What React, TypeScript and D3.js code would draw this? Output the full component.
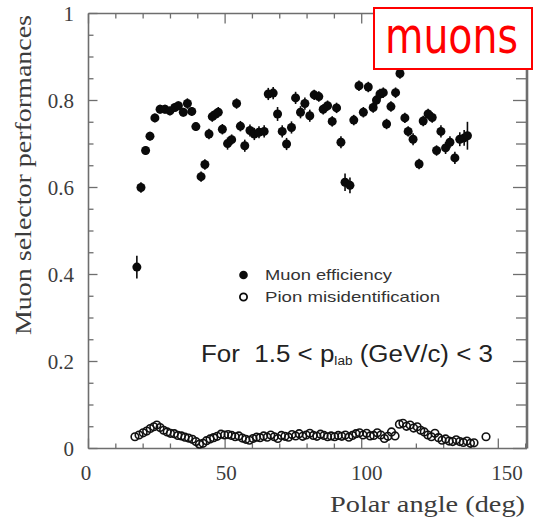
import React from "react";
import * as d3 from "d3";

// Muon efficiency vs polar angle (deg), with statistical errors
const muonAngle = [17.7, 19.2, 20.9, 22.5, 24.3, 26.2, 28.0, 29.8, 31.6, 32.9, 34.7, 36.2, 37.8, 39.3, 41.2, 42.6, 44.1, 45.3, 46.4, 47.5, 49.0, 50.9, 52.4, 54.2, 55.6, 57.2, 59.1, 60.7, 62.4, 64.3, 65.8, 67.6, 69.2, 70.9, 72.5, 74.3, 75.8, 77.6, 79.2, 81.0, 82.6, 84.3, 85.9, 87.5, 89.2, 90.8, 92.4, 93.9, 95.7, 97.1, 99.0, 100.6, 102.4, 104.2, 105.4, 106.7, 107.9, 109.1, 110.7, 112.4, 114.0, 115.8, 117.0, 118.8, 121.0, 122.5, 124.3, 125.8, 127.4, 129.0, 130.7, 132.3, 134.1, 135.9, 137.5, 138.7];
const muonEff = [0.417, 0.600, 0.685, 0.718, 0.760, 0.780, 0.780, 0.776, 0.784, 0.788, 0.773, 0.793, 0.775, 0.740, 0.625, 0.653, 0.723, 0.763, 0.768, 0.773, 0.734, 0.701, 0.710, 0.793, 0.741, 0.696, 0.731, 0.723, 0.727, 0.729, 0.815, 0.817, 0.769, 0.729, 0.700, 0.738, 0.806, 0.773, 0.793, 0.765, 0.813, 0.809, 0.780, 0.788, 0.752, 0.783, 0.704, 0.612, 0.605, 0.755, 0.834, 0.773, 0.831, 0.784, 0.801, 0.815, 0.818, 0.746, 0.786, 0.818, 0.862, 0.760, 0.729, 0.711, 0.654, 0.753, 0.769, 0.761, 0.685, 0.729, 0.691, 0.704, 0.668, 0.711, 0.714, 0.719];
const muonErr = [0.026, 0.012, 0.010, 0.010, 0.010, 0.010, 0.010, 0.010, 0.010, 0.010, 0.010, 0.012, 0.010, 0.010, 0.012, 0.012, 0.012, 0.012, 0.012, 0.012, 0.012, 0.014, 0.012, 0.012, 0.012, 0.014, 0.014, 0.014, 0.014, 0.014, 0.014, 0.014, 0.016, 0.014, 0.014, 0.014, 0.014, 0.014, 0.014, 0.014, 0.012, 0.012, 0.012, 0.012, 0.012, 0.012, 0.014, 0.020, 0.018, 0.012, 0.012, 0.012, 0.012, 0.012, 0.012, 0.012, 0.012, 0.012, 0.012, 0.012, 0.012, 0.012, 0.012, 0.014, 0.012, 0.012, 0.012, 0.012, 0.012, 0.014, 0.014, 0.014, 0.014, 0.016, 0.018, 0.032];

// Pion misidentification probability vs polar angle (deg)
const pionAngle = [17.0, 18.5, 20.0, 21.3, 22.6, 23.9, 25.0, 26.2, 27.5, 28.8, 30.0, 31.4, 32.7, 34.0, 35.3, 36.6, 38.0, 39.3, 40.6, 41.9, 43.2, 44.5, 45.8, 47.1, 48.5, 49.8, 51.1, 52.4, 53.7, 55.0, 56.3, 57.6, 58.9, 60.2, 61.5, 62.8, 64.1, 65.4, 66.7, 68.0, 69.3, 70.6, 71.9, 73.2, 74.5, 75.8, 77.1, 78.4, 79.7, 81.0, 82.3, 83.6, 84.9, 86.2, 87.5, 88.8, 90.1, 91.4, 92.7, 94.0, 95.3, 96.6, 97.9, 99.2, 100.5, 101.8, 103.1, 104.4, 105.7, 107.0, 108.3, 109.6, 110.9, 112.2, 113.8, 115.1, 116.4, 117.7, 119.0, 120.3, 121.6, 122.9, 124.2, 125.5, 126.8, 128.1, 129.4, 130.7, 132.0, 133.3, 134.6, 135.9, 137.2, 138.5, 139.8, 141.1, 145.5];
const pionMisid = [0.027, 0.031, 0.036, 0.040, 0.046, 0.050, 0.054, 0.048, 0.042, 0.038, 0.035, 0.034, 0.030, 0.029, 0.026, 0.024, 0.021, 0.016, 0.010, 0.012, 0.018, 0.022, 0.025, 0.028, 0.033, 0.031, 0.032, 0.030, 0.027, 0.029, 0.024, 0.021, 0.019, 0.023, 0.026, 0.025, 0.029, 0.026, 0.031, 0.027, 0.023, 0.030, 0.028, 0.026, 0.032, 0.029, 0.034, 0.028, 0.031, 0.035, 0.030, 0.028, 0.033, 0.030, 0.027, 0.029, 0.027, 0.030, 0.028, 0.031, 0.026, 0.030, 0.034, 0.036, 0.031, 0.035, 0.029, 0.030, 0.036, 0.031, 0.023, 0.028, 0.038, 0.029, 0.056, 0.058, 0.051, 0.054, 0.047, 0.050, 0.042, 0.038, 0.031, 0.027, 0.035, 0.025, 0.019, 0.022, 0.017, 0.016, 0.020, 0.016, 0.014, 0.017, 0.012, 0.013, 0.027];

const xTickLabels = [0, 50, 100, 150];
const yTickLabels = ["0", "0.2", "0.4", "0.6", "0.8", "1"];
const yTickValues = [0, 0.2, 0.4, 0.6, 0.8, 1];

const W = 537;
const H = 522;
const axisColor = "#6e6e6e";
const textColor = "#3c3c3c";
const serif = "'Liberation Serif', 'Times New Roman', serif";
const sans = "'Liberation Sans', Arial, sans-serif";

export default function App() {
  const x = d3.scaleLinear().domain([0, 160.5]).range([88.5, 527]);
  const y = d3.scaleLinear().domain([0, 1]).range([448.5, 13.5]);
  // printed x tick labels sit slightly off the tick marks
  const xLabel = d3.scaleLinear().domain([0, 150]).range([86, 507]);

  const [x0, x1] = x.range();
  const [y0, y1] = y.range();

  const xMinor = d3.range(0, 161, 10);
  const yMinor = d3.range(0, 1.0001, 0.05);

  const muons = muonAngle.map((a, i) => ({ a, v: muonEff[i], e: muonErr[i] }));
  const pions = pionAngle.map((a, i) => ({ a, v: pionMisid[i] }));

  return (
    <svg width={W} height={H} style={{ position: "absolute", left: 0, top: 0, background: "#fff" }}>
      {/* frame */}
      <g stroke={axisColor} fill="none">
        <line x1={x0} y1={y1} x2={x0} y2={y0} strokeWidth={1.6} />
        <line x1={x0} y1={y1} x2={x1} y2={y1} strokeWidth={1.6} />
        <line x1={x0} y1={y0} x2={x1} y2={y0} strokeWidth={1.6} />
        <line x1={x1} y1={y1 - 4} x2={x1} y2={y0} strokeWidth={2.6} />
        {xMinor.map((t) => {
          const major = t % 50 === 0;
          const len = major ? 10 : 5;
          return (
            <g key={"xt" + t}>
              <line x1={x(t)} x2={x(t)} y1={y1} y2={y1 + len} strokeWidth={1.3} />
              <line x1={x(t)} x2={x(t)} y1={y0} y2={y0 - len} strokeWidth={1.3} />
            </g>
          );
        })}
        {yMinor.map((t, i) => {
          const major = i % 4 === 0;
          return (
            <g key={"yt" + i}>
              <line x1={x0} x2={x0 + (major ? 9 : 5)} y1={y(t)} y2={y(t)} strokeWidth={1.3} />
              <line x1={x1} x2={x1 - (major ? 14 : 11)} y1={y(t)} y2={y(t)} strokeWidth={1.3} />
            </g>
          );
        })}
      </g>

      {/* tick labels */}
      <g fill={textColor} fontFamily={serif} fontSize={21}>
        {xTickLabels.map((t) => (
          <text key={"xl" + t} x={xLabel(t)} y={480} textAnchor="middle">
            {t}
          </text>
        ))}
        {yTickValues.map((t, i) => (
          <text key={"yl" + t} x={74} y={y(t) + 7} textAnchor="end">
            {yTickLabels[i]}
          </text>
        ))}
      </g>

      {/* axis titles */}
      <text x={525} y={512} textAnchor="end" fontFamily={serif} fontSize={24} fill={textColor} textLength={195} lengthAdjust="spacingAndGlyphs">
        Polar angle (deg)
      </text>
      <text transform="translate(31,175) rotate(-90)" textAnchor="middle" fontFamily={serif} fontSize={23} fill={textColor} textLength={320} lengthAdjust="spacingAndGlyphs">
        Muon selector performances
      </text>

      {/* pion misidentification: open circles */}
      <g fill="none" stroke="#111" strokeWidth={1.6}>
        {pions.map((d, i) => (
          <circle key={"p" + i} cx={x(d.a)} cy={y(d.v)} r={3.8} />
        ))}
      </g>

      {/* muon efficiency: filled circles with error bars */}
      <g fill="#0a0a0a" stroke="#0a0a0a">
        {muons.map((d, i) => (
          <g key={"m" + i}>
            <line x1={x(d.a)} x2={x(d.a)} y1={y(d.v - d.e)} y2={y(d.v + d.e)} strokeWidth={1.6} />
            <circle cx={x(d.a)} cy={y(d.v)} r={4.5} stroke="none" />
          </g>
        ))}
      </g>

      {/* legend */}
      <circle cx={243.5} cy={275} r={4.3} fill="#0a0a0a" />
      <text x={265} y={280} fontFamily={sans} fontSize={15} fill="#333" textLength={127} lengthAdjust="spacingAndGlyphs">
        Muon efficiency
      </text>
      <circle cx={243.5} cy={297} r={3.6} fill="none" stroke="#0a0a0a" strokeWidth={1.8} />
      <text x={265} y={302} fontFamily={sans} fontSize={15} fill="#333" textLength={175} lengthAdjust="spacingAndGlyphs">
        Pion misidentification
      </text>

      {/* momentum range */}
      <text x={201} y={362} fontFamily={sans} fontSize={23} fill="#222" textLength={292} lengthAdjust="spacingAndGlyphs" style={{ whiteSpace: "pre" }}>
        <tspan>{"For\u00a0\u00a01.5 < p"}</tspan>
        <tspan fontSize={12} dy={3}>lab</tspan>
        <tspan dy={-3}>{" (GeV/c) < 3"}</tspan>
      </text>

      {/* particle tag */}
      <rect x={374} y={8} width={158} height={61} fill="#fff" stroke="#ff0000" strokeWidth={2} />
      <text transform="translate(385,53) scale(1,1.25)" fontFamily="'DejaVu Sans', Verdana, sans-serif" fontSize={40} fill="#ff0000" textLength={133} lengthAdjust="spacingAndGlyphs">
        muons
      </text>
    </svg>
  );
}
